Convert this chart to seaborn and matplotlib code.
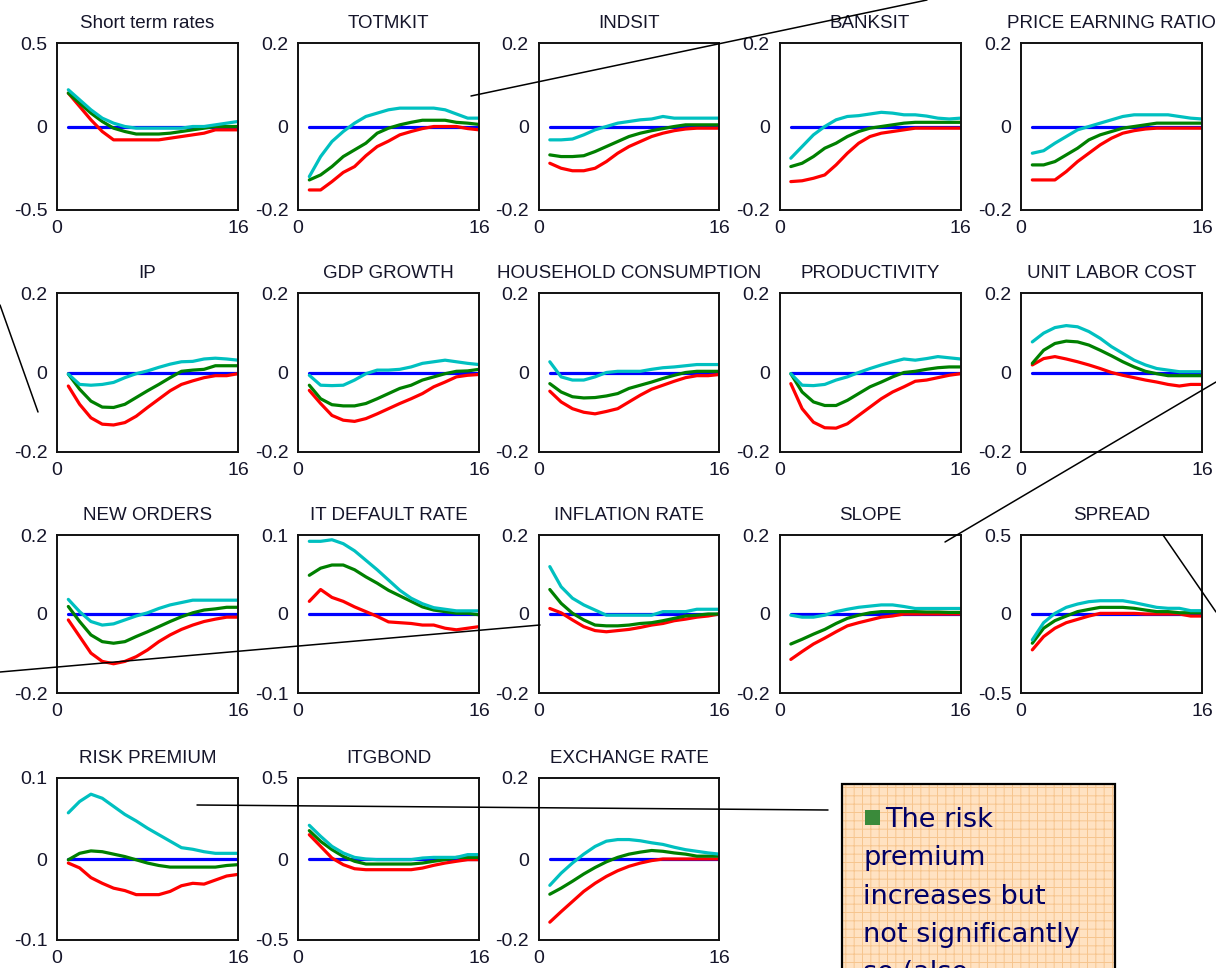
import matplotlib
matplotlib.use("Agg")
import matplotlib.pyplot as plt
from matplotlib.lines import Line2D
from matplotlib.patches import Rectangle
import pandas as pd
import seaborn as sns

# Impulse-response horizon (quarters)
horizon = list(range(1, 17))

# ---- lower band / median / upper band for each variable ----
short_lo = [0.20, 0.12, 0.04, -0.03, -0.08, -0.08, -0.08, -0.08, -0.08, -0.07, -0.06, -0.05, -0.04, -0.02, -0.02, -0.02]
short_mid = [0.20, 0.14, 0.08, 0.03, -0.01, -0.03, -0.045, -0.045, -0.045, -0.04, -0.03, -0.02, -0.01, 0.00, 0.00, 0.00]
short_hi = [0.22, 0.16, 0.10, 0.05, 0.02, 0.00, -0.01, -0.01, -0.01, -0.01, -0.01, 0.00, 0.00, 0.01, 0.02, 0.03]

totmkit_lo = [-0.152, -0.152, -0.132, -0.11, -0.096, -0.07, -0.048, -0.035, -0.02, -0.012, -0.005, 0.0, 0.0, 0.0, -0.005, -0.008]
totmkit_mid = [-0.128, -0.116, -0.096, -0.072, -0.056, -0.04, -0.016, -0.004, 0.004, 0.01, 0.015, 0.015, 0.015, 0.01, 0.008, 0.005]
totmkit_hi = [-0.12, -0.072, -0.036, -0.012, 0.008, 0.024, 0.032, 0.04, 0.044, 0.044, 0.044, 0.044, 0.04, 0.03, 0.02, 0.02]

indsit_lo = [-0.088, -0.10, -0.106, -0.106, -0.10, -0.084, -0.064, -0.048, -0.036, -0.024, -0.016, -0.01, -0.006, -0.004, -0.004, -0.004]
indsit_mid = [-0.068, -0.072, -0.072, -0.07, -0.06, -0.048, -0.036, -0.024, -0.016, -0.01, -0.005, 0.0, 0.004, 0.004, 0.004, 0.004]
indsit_hi = [-0.032, -0.032, -0.03, -0.02, -0.008, 0.0, 0.008, 0.012, 0.016, 0.018, 0.024, 0.02, 0.02, 0.02, 0.02, 0.02]

banksit_lo = [-0.132, -0.13, -0.124, -0.116, -0.092, -0.064, -0.04, -0.024, -0.016, -0.012, -0.008, -0.004, -0.004, -0.004, -0.004, -0.004]
banksit_mid = [-0.096, -0.088, -0.072, -0.052, -0.04, -0.024, -0.012, -0.004, 0.0, 0.004, 0.008, 0.01, 0.01, 0.01, 0.01, 0.01]
banksit_hi = [-0.076, -0.048, -0.02, 0.0, 0.016, 0.024, 0.026, 0.03, 0.034, 0.032, 0.028, 0.028, 0.025, 0.02, 0.018, 0.02]

per_lo = [-0.128, -0.128, -0.128, -0.108, -0.084, -0.064, -0.044, -0.028, -0.016, -0.01, -0.006, -0.004, -0.004, -0.004, -0.004, -0.004]
per_mid = [-0.092, -0.092, -0.084, -0.068, -0.052, -0.032, -0.02, -0.012, -0.004, 0.0, 0.004, 0.008, 0.008, 0.008, 0.008, 0.008]
per_hi = [-0.064, -0.058, -0.04, -0.024, -0.008, 0.0, 0.008, 0.016, 0.024, 0.028, 0.028, 0.028, 0.028, 0.024, 0.02, 0.018]

ip_lo = [-0.034, -0.08, -0.114, -0.13, -0.132, -0.126, -0.11, -0.088, -0.067, -0.046, -0.03, -0.021, -0.013, -0.008, -0.008, -0.003]
ip_mid = [-0.004, -0.042, -0.072, -0.087, -0.088, -0.08, -0.063, -0.046, -0.03, -0.013, 0.003, 0.006, 0.008, 0.017, 0.017, 0.017]
ip_hi = [-0.004, -0.03, -0.032, -0.03, -0.025, -0.013, -0.003, 0.004, 0.013, 0.021, 0.027, 0.028, 0.034, 0.036, 0.034, 0.031]

gdp_lo = [-0.045, -0.078, -0.108, -0.12, -0.123, -0.116, -0.104, -0.091, -0.078, -0.066, -0.053, -0.036, -0.024, -0.011, -0.007, -0.005]
gdp_mid = [-0.032, -0.066, -0.081, -0.084, -0.084, -0.078, -0.066, -0.053, -0.04, -0.032, -0.019, -0.011, -0.003, 0.003, 0.004, 0.008]
gdp_hi = [-0.007, -0.032, -0.033, -0.032, -0.019, -0.003, 0.006, 0.006, 0.008, 0.014, 0.023, 0.027, 0.031, 0.027, 0.023, 0.02]

cons_lo = [-0.047, -0.074, -0.091, -0.10, -0.104, -0.098, -0.091, -0.074, -0.057, -0.042, -0.032, -0.022, -0.013, -0.008, -0.008, -0.005]
cons_mid = [-0.028, -0.049, -0.061, -0.064, -0.063, -0.059, -0.053, -0.04, -0.032, -0.024, -0.015, -0.007, 0.0, 0.003, 0.003, 0.003]
cons_hi = [0.027, -0.011, -0.019, -0.019, -0.011, 0.0, 0.003, 0.003, 0.003, 0.008, 0.012, 0.014, 0.017, 0.02, 0.02, 0.02]

prod_lo = [-0.028, -0.091, -0.125, -0.139, -0.14, -0.129, -0.108, -0.087, -0.066, -0.049, -0.036, -0.022, -0.019, -0.013, -0.007, -0.003]
prod_mid = [-0.003, -0.049, -0.074, -0.083, -0.083, -0.07, -0.053, -0.036, -0.024, -0.011, 0.0, 0.003, 0.008, 0.012, 0.014, 0.014]
prod_hi = [-0.003, -0.032, -0.033, -0.03, -0.019, -0.011, 0.0, 0.01, 0.019, 0.027, 0.034, 0.031, 0.035, 0.04, 0.037, 0.034]

ulc_lo = [0.019, 0.035, 0.04, 0.034, 0.027, 0.019, 0.01, 0.0, -0.007, -0.013, -0.019, -0.024, -0.03, -0.034, -0.03, -0.03]
ulc_mid = [0.023, 0.056, 0.073, 0.079, 0.077, 0.069, 0.056, 0.042, 0.027, 0.014, 0.003, -0.003, -0.008, -0.008, -0.008, -0.008]
ulc_hi = [0.077, 0.099, 0.113, 0.118, 0.115, 0.103, 0.086, 0.065, 0.048, 0.031, 0.019, 0.01, 0.006, 0.002, 0.002, 0.002]

orders_lo = [-0.015, -0.057, -0.099, -0.12, -0.126, -0.12, -0.108, -0.091, -0.07, -0.053, -0.039, -0.028, -0.019, -0.013, -0.008, -0.008]
orders_mid = [0.019, -0.019, -0.053, -0.07, -0.074, -0.07, -0.057, -0.045, -0.032, -0.019, -0.007, 0.003, 0.01, 0.013, 0.017, 0.017]
orders_hi = [0.037, 0.006, -0.019, -0.028, -0.025, -0.015, -0.005, 0.003, 0.014, 0.023, 0.029, 0.035, 0.035, 0.035, 0.035, 0.035]

default_lo = [0.016, 0.031, 0.021, 0.016, 0.009, 0.003, -0.003, -0.01, -0.011, -0.012, -0.014, -0.014, -0.018, -0.02, -0.018, -0.016]
default_mid = [0.049, 0.058, 0.062, 0.062, 0.056, 0.047, 0.039, 0.03, 0.023, 0.016, 0.009, 0.005, 0.003, 0.001, 0.001, -0.001]
default_hi = [0.092, 0.092, 0.094, 0.089, 0.08, 0.068, 0.056, 0.043, 0.03, 0.02, 0.013, 0.008, 0.006, 0.004, 0.004, 0.004]

infl_lo = [0.014, 0.003, -0.015, -0.032, -0.042, -0.045, -0.042, -0.039, -0.034, -0.028, -0.024, -0.017, -0.013, -0.008, -0.005, 0.0]
infl_mid = [0.062, 0.027, 0.002, -0.015, -0.028, -0.03, -0.03, -0.028, -0.024, -0.022, -0.017, -0.011, -0.005, -0.003, 0.0, 0.0]
infl_hi = [0.12, 0.069, 0.04, 0.023, 0.01, -0.003, -0.003, -0.003, -0.003, -0.003, 0.006, 0.006, 0.006, 0.012, 0.012, 0.012]

slope_lo = [-0.115, -0.095, -0.076, -0.061, -0.045, -0.03, -0.022, -0.015, -0.008, -0.005, 0.0, 0.0, 0.0, 0.0, 0.0, 0.0]
slope_mid = [-0.076, -0.064, -0.051, -0.039, -0.024, -0.011, -0.003, 0.003, 0.006, 0.006, 0.006, 0.006, 0.005, 0.005, 0.004, 0.004]
slope_hi = [-0.003, -0.008, -0.008, -0.003, 0.006, 0.012, 0.017, 0.02, 0.023, 0.023, 0.019, 0.014, 0.014, 0.014, 0.014, 0.014]

spread_lo = [-0.227, -0.143, -0.09, -0.055, -0.034, -0.013, 0.004, 0.004, 0.004, 0.004, 0.0, 0.0, 0.0, 0.0, -0.013, -0.013]
spread_mid = [-0.185, -0.09, -0.042, -0.013, 0.015, 0.029, 0.042, 0.042, 0.042, 0.036, 0.025, 0.015, 0.015, 0.008, 0.008, 0.008]
spread_hi = [-0.164, -0.055, 0.004, 0.042, 0.063, 0.078, 0.084, 0.084, 0.084, 0.072, 0.057, 0.042, 0.036, 0.036, 0.021, 0.021]

risk_lo = [-0.005, -0.011, -0.023, -0.03, -0.036, -0.039, -0.044, -0.044, -0.044, -0.04, -0.033, -0.03, -0.031, -0.026, -0.021, -0.019]
risk_mid = [-0.001, 0.007, 0.01, 0.009, 0.006, 0.003, -0.001, -0.005, -0.008, -0.01, -0.01, -0.01, -0.01, -0.01, -0.008, -0.007]
risk_hi = [0.057, 0.071, 0.08, 0.075, 0.065, 0.055, 0.047, 0.038, 0.03, 0.022, 0.014, 0.012, 0.009, 0.007, 0.007, 0.007]

bond_lo = [0.15, 0.078, 0.006, -0.035, -0.06, -0.066, -0.066, -0.066, -0.066, -0.066, -0.056, -0.039, -0.025, -0.014, -0.004, -0.004]
bond_mid = [0.175, 0.109, 0.058, 0.016, -0.014, -0.031, -0.031, -0.031, -0.031, -0.031, -0.025, -0.014, -0.004, 0.01, 0.01, 0.01]
bond_hi = [0.208, 0.14, 0.078, 0.037, 0.01, 0.0, -0.004, -0.004, -0.004, -0.004, 0.006, 0.01, 0.01, 0.01, 0.027, 0.027]

fx_lo = [-0.156, -0.13, -0.105, -0.08, -0.06, -0.043, -0.029, -0.018, -0.01, -0.004, 0.0, 0.0, 0.0, 0.0, 0.0, 0.0]
fx_mid = [-0.087, -0.072, -0.055, -0.037, -0.021, -0.007, 0.004, 0.012, 0.017, 0.021, 0.019, 0.015, 0.012, 0.007, 0.007, 0.007]
fx_hi = [-0.065, -0.035, -0.01, 0.012, 0.031, 0.044, 0.048, 0.048, 0.045, 0.04, 0.036, 0.029, 0.023, 0.019, 0.015, 0.012]

titles = ["Short term rates", "TOTMKIT", "INDSIT", "BANKSIT", "PRICE EARNING RATIO",
          "IP", "GDP GROWTH", "HOUSEHOLD CONSUMPTION", "PRODUCTIVITY", "UNIT LABOR COST",
          "NEW ORDERS", "IT DEFAULT RATE", "INFLATION RATE", "SLOPE", "SPREAD",
          "RISK PREMIUM", "ITGBOND", "EXCHANGE RATE"]
y_limits = [0.5, 0.2, 0.2, 0.2, 0.2,
            0.2, 0.2, 0.2, 0.2, 0.2,
            0.2, 0.1, 0.2, 0.2, 0.5,
            0.1, 0.5, 0.2]
lower_bands = [short_lo, totmkit_lo, indsit_lo, banksit_lo, per_lo, ip_lo, gdp_lo, cons_lo, prod_lo,
               ulc_lo, orders_lo, default_lo, infl_lo, slope_lo, spread_lo, risk_lo, bond_lo, fx_lo]
medians = [short_mid, totmkit_mid, indsit_mid, banksit_mid, per_mid, ip_mid, gdp_mid, cons_mid, prod_mid,
           ulc_mid, orders_mid, default_mid, infl_mid, slope_mid, spread_mid, risk_mid, bond_mid, fx_mid]
upper_bands = [short_hi, totmkit_hi, indsit_hi, banksit_hi, per_hi, ip_hi, gdp_hi, cons_hi, prod_hi,
               ulc_hi, orders_hi, default_hi, infl_hi, slope_hi, spread_hi, risk_hi, bond_hi, fx_hi]

note_lines = ["The risk", "premium", "increases but", "not significantly", "so (also"]

sns.set_theme(style="white")
plt.rcParams["font.family"] = ["Liberation Sans", "DejaVu Sans"]
plt.rcParams["hatch.linewidth"] = 0.7

W, H = 1216, 968
fig = plt.figure(figsize=(W / 100, H / 100), dpi=100)
fig.patch.set_facecolor("white")

col_left = [57, 298, 538.5, 779.5, 1021]
row_top = [43, 293, 535, 778]
row_bottom = [210, 452, 693, 940]
panel_w = 181

palette = {"lower": "#ff0000", "median": "#008000", "upper": "#00c0c0"}
label_color = "#15152a"


def fig_xy(x, y):
    return x / W, 1 - y / H


for i, title in enumerate(titles):
    r, c = divmod(i, 5)
    ax = fig.add_axes([col_left[c] / W, 1 - row_bottom[r] / H,
                       panel_w / W, (row_bottom[r] - row_top[r]) / H])
    lim = y_limits[i]

    sns.lineplot(x=horizon, y=[0.0] * len(horizon), color="#0000ff", lw=2.3, ax=ax)
    df = pd.DataFrame({
        "h": horizon * 3,
        "v": lower_bands[i] + medians[i] + upper_bands[i],
        "band": ["lower"] * 16 + ["median"] * 16 + ["upper"] * 16,
    })
    sns.lineplot(data=df, x="h", y="v", hue="band", hue_order=["lower", "median", "upper"],
                 palette=palette, lw=2.3, legend=False, ax=ax)

    ax.set_xlim(0, 16)
    ax.set_ylim(-lim, lim)
    ax.set_xticks([0, 16])
    ax.set_xticklabels(["0", "16"])
    ax.set_yticks([-lim, 0, lim])
    ax.set_yticklabels([f"-{lim:g}", "0", f"{lim:g}"])
    ax.set_xlabel("")
    ax.set_ylabel("")
    ax.tick_params(length=0, pad=7, labelsize=14, colors=label_color)
    for s in ax.spines.values():
        s.set_visible(True)
        s.set_color("#111111")
        s.set_linewidth(1.4)
    ax.set_title(title, fontsize=13.5, color=label_color, pad=11)

# Callout connector lines
connectors = [
    ((471, 96), (927, 0)),
    ((0, 305), (38, 412)),
    ((945, 542), (1216, 382)),
    ((1163, 535), (1216, 612)),
    ((0, 672), (540, 625)),
    ((197, 805), (828, 810)),
]
for (x0, y0), (x1, y1) in connectors:
    a = fig_xy(x0, y0)
    b = fig_xy(x1, y1)
    fig.add_artist(Line2D([a[0], b[0]], [a[1], b[1]], transform=fig.transFigure,
                          color="black", lw=1.1, zorder=5))

# Note box
bx0, by0, bx1, by1 = 842, 784, 1115, 1010
fig.add_artist(Rectangle(fig_xy(bx0, by1), (bx1 - bx0) / W, (by1 - by0) / H,
                         transform=fig.transFigure, facecolor="#ffe2c2",
                         edgecolor="#f6c58e", hatch="++", lw=0, zorder=6))
fig.add_artist(Rectangle(fig_xy(bx0, by1), (bx1 - bx0) / W, (by1 - by0) / H,
                         transform=fig.transFigure, facecolor="none",
                         edgecolor="black", lw=1.6, zorder=7))
fig.add_artist(Rectangle(fig_xy(865, 825), 15 / W, 15 / H, transform=fig.transFigure,
                         facecolor="#3a8a3a", edgecolor="none", zorder=8))
baseline = 827
for k, line in enumerate(note_lines):
    x = 885 if k == 0 else 863
    fig.text(x / W, 1 - (baseline + 38.3 * k) / H, line, fontsize=19.5,
             family=["DejaVu Sans"], color="#000066", va="baseline", ha="left", zorder=9)

fig.savefig("out.png", dpi=100, facecolor="white")
